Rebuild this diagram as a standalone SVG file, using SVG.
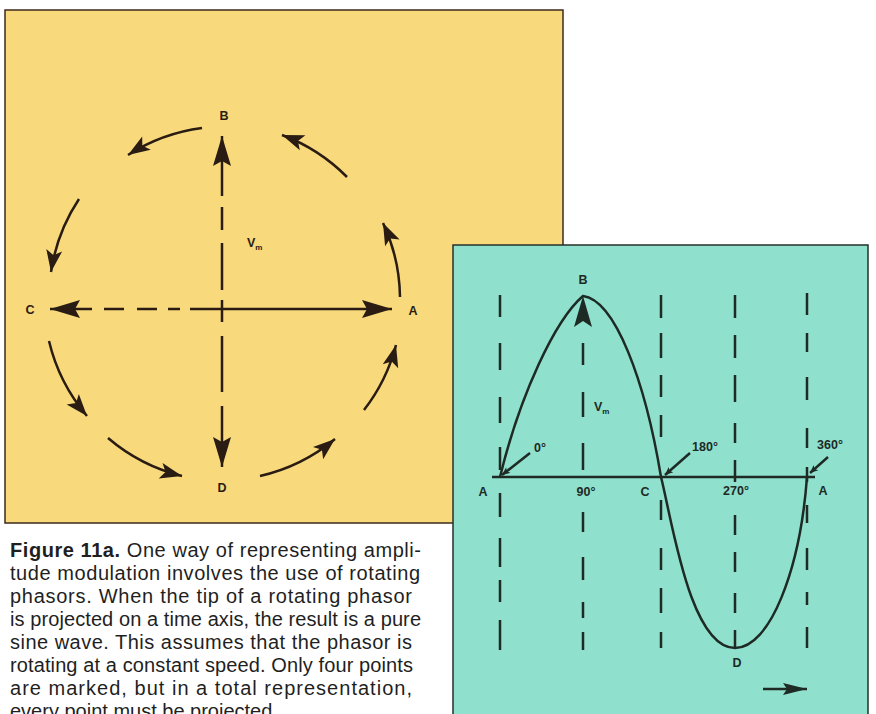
<svg xmlns="http://www.w3.org/2000/svg" width="876" height="714" viewBox="0 0 876 714">
<style>
.ln{stroke:#2a1c12;stroke-width:2.5;fill:none}
.tl{stroke:#1e2a24;stroke-width:2.5;fill:none}
.lbl{font-family:"Liberation Sans",Arial,sans-serif;font-weight:bold;font-size:12.5px;fill:#2a1c12;text-anchor:middle}
.tlbl{font-family:"Liberation Sans",Arial,sans-serif;font-weight:bold;font-size:12.5px;fill:#1e2a24;text-anchor:middle}
.sub{font-size:8px}
.cap{font-family:"Liberation Sans",Arial,sans-serif;font-size:20px;fill:#1f1f1f}
</style>
<defs>
<marker id="ah" markerUnits="userSpaceOnUse" viewBox="-24 -10 26 20" markerWidth="26" markerHeight="20" refX="0" refY="0" orient="auto" overflow="visible"><path d="M0,0 L-22,-8 L-17,0 L-22,8 Z" fill="#2a1c12"/></marker>
<marker id="big" markerUnits="userSpaceOnUse" viewBox="-32 -10 34 20" markerWidth="34" markerHeight="20" refX="0" refY="0" orient="auto" overflow="visible"><path d="M0,0 L-30,-9 L-25,0 L-30,9 Z" fill="#2a1c12"/></marker>
<marker id="sm" markerUnits="userSpaceOnUse" viewBox="-10 -5 12 10" markerWidth="12" markerHeight="10" refX="0" refY="0" orient="auto" overflow="visible"><path d="M0,0 L-8,-3.5 L-6,0 L-8,3.5 Z" fill="#1e2a24"/></marker>
<marker id="ta" markerUnits="userSpaceOnUse" viewBox="-26 -7 28 14" markerWidth="28" markerHeight="14" refX="0" refY="0" orient="auto" overflow="visible"><path d="M0,0 L-24,-6 L-20,0 L-24,6 Z" fill="#1e2a24"/></marker>
</defs>
<rect x="0" y="0" width="876" height="714" fill="#ffffff"/>

<g id="phasor-panel">
<rect x="5" y="10" width="558" height="513" fill="#F8DA7D" stroke="#3e2a1c" stroke-width="1.5"/>
</g>

<g id="phasor-connectors">
<path class="ln" d="M222,196 V136" marker-end="url(#big)"/>
<path class="ln" d="M222,207V230 M222,243V290 M222,300V322 M222,336V392"/>
<path class="ln" d="M222,406 V467" marker-end="url(#big)"/>
<path class="ln" d="M190,309 H392" marker-end="url(#big)"/>
<path class="ln" d="M92,309 H50" marker-end="url(#big)"/>
<path class="ln" d="M104,309H124 M137,309H157 M168,309H180"/>
<path class="ln" d="M400,297 A180,180 0 0 0 383,223" marker-end="url(#ah)"/>
<path class="ln" d="M347,177 A180,180 0 0 0 282,135" marker-end="url(#ah)"/>
<path class="ln" d="M202,128 A180,180 0 0 0 128,155" marker-end="url(#ah)"/>
<path class="ln" d="M79,199 A180,180 0 0 0 51,272" marker-end="url(#ah)"/>
<path class="ln" d="M49,341 A180,180 0 0 0 87,416" marker-end="url(#ah)"/>
<path class="ln" d="M108,438 A180,180 0 0 0 182,476" marker-end="url(#ah)"/>
<path class="ln" d="M260,476 A180,180 0 0 0 335,439" marker-end="url(#ah)"/>
<path class="ln" d="M364,410 A180,180 0 0 0 396,345" marker-end="url(#ah)"/>
</g>

<g id="phasor-B"><text class="lbl" x="224" y="120">B</text></g>
<g id="phasor-C"><text class="lbl" x="30" y="314">C</text></g>
<g id="phasor-A"><text class="lbl" x="413" y="315">A</text></g>
<g id="phasor-D"><text class="lbl" x="222" y="492">D</text></g>
<g id="phasor-Vm"><text class="lbl" x="247" y="247" style="text-anchor:start">V<tspan class="sub" dy="3">m</tspan></text></g>

<g id="caption">
<text class="cap" x="10" y="557" textLength="411" lengthAdjust="spacing"><tspan font-weight="bold">Figure 11a.</tspan> One way of representing ampli-</text>
<text class="cap" x="10" y="580" textLength="410" lengthAdjust="spacing">tude modulation involves the use of rotating</text>
<text class="cap" x="10" y="603" textLength="402" lengthAdjust="spacing">phasors. When the tip of a rotating phasor</text>
<text class="cap" x="10" y="626" textLength="411" lengthAdjust="spacing">is projected on a time axis, the result is a pure</text>
<text class="cap" x="10" y="649" textLength="402" lengthAdjust="spacing">sine wave. This assumes that the phasor is</text>
<text class="cap" x="10" y="672" textLength="403" lengthAdjust="spacing">rotating at a constant speed. Only four points</text>
<text class="cap" x="10" y="695" textLength="402" lengthAdjust="spacing">are marked, but in a total representation,</text>
<text class="cap" x="10" y="718">every point must be projected.</text>
</g>

<g id="wave-panel">
<rect x="453" y="245" width="415" height="480" fill="#90E0CE" stroke="#24302a" stroke-width="1.5"/>
</g>

<g id="wave-connectors">
<path class="tl" d="M500,295V317 M500,343V370 M500,397V423 M500,447V470 M500,493V517 M500,538V567 M500,580V602 M500,620V650"/>
<path class="tl" d="M583,343V365 M583,392V417 M583,443V470 M583,512V532 M583,557V580 M583,602V618 M583,632V650"/>
<path class="tl" d="M661,295V318 M661,333V358 M661,375V397 M661,415V437 M661,500V520 M661,548V570 M661,588V613 M661,632V648"/>
<path class="tl" d="M735,295V318 M735,335V358 M735,375V402 M735,423V443 M735,460V482 M735,515V535 M735,552V572 M735,593V613 M735,630V647"/>
<path class="tl" d="M807,293V315 M807,333V352 M807,377V400 M807,428V448 M807,467V482 M807,505V523 M807,548V570 M807,592V605 M807,627V648"/>
<path class="tl" d="M492,477 H815"/>
<path class="tl" d="M500,477 C520,395 555,320 583,296 C615,300 645,380 661,477 C672,520 690,648 735,648 C770,648 800,570 807,477"/>
<path d="M583,296 L592,327 L583,321 L574,327 Z" fill="#1e2a24"/>
<path class="tl" stroke-width="1.8" d="M530,453 L502,475" marker-end="url(#sm)"/>
<path class="tl" stroke-width="1.8" d="M690,453 L665,475" marker-end="url(#sm)"/>
<path class="tl" stroke-width="1.8" d="M828,457 L810,473" marker-end="url(#sm)"/>
<path class="tl" d="M763,689 H807" marker-end="url(#ta)"/>
</g>

<g id="wave-B"><text class="tlbl" x="583" y="284">B</text></g>
<g id="wave-Vm"><text class="tlbl" x="594" y="411" style="text-anchor:start">V<tspan class="sub" dy="3">m</tspan></text></g>
<g id="wave-0"><text class="tlbl" x="540" y="452">0°</text></g>
<g id="wave-180"><text class="tlbl" x="705" y="451">180°</text></g>
<g id="wave-360"><text class="tlbl" x="830" y="449">360°</text></g>
<g id="wave-A1"><text class="tlbl" x="483" y="496">A</text></g>
<g id="wave-90"><text class="tlbl" x="586" y="496">90°</text></g>
<g id="wave-C"><text class="tlbl" x="645" y="496">C</text></g>
<g id="wave-270"><text class="tlbl" x="736" y="495">270°</text></g>
<g id="wave-A2"><text class="tlbl" x="823" y="495">A</text></g>
<g id="wave-D"><text class="tlbl" x="737" y="667">D</text></g>
</svg>
